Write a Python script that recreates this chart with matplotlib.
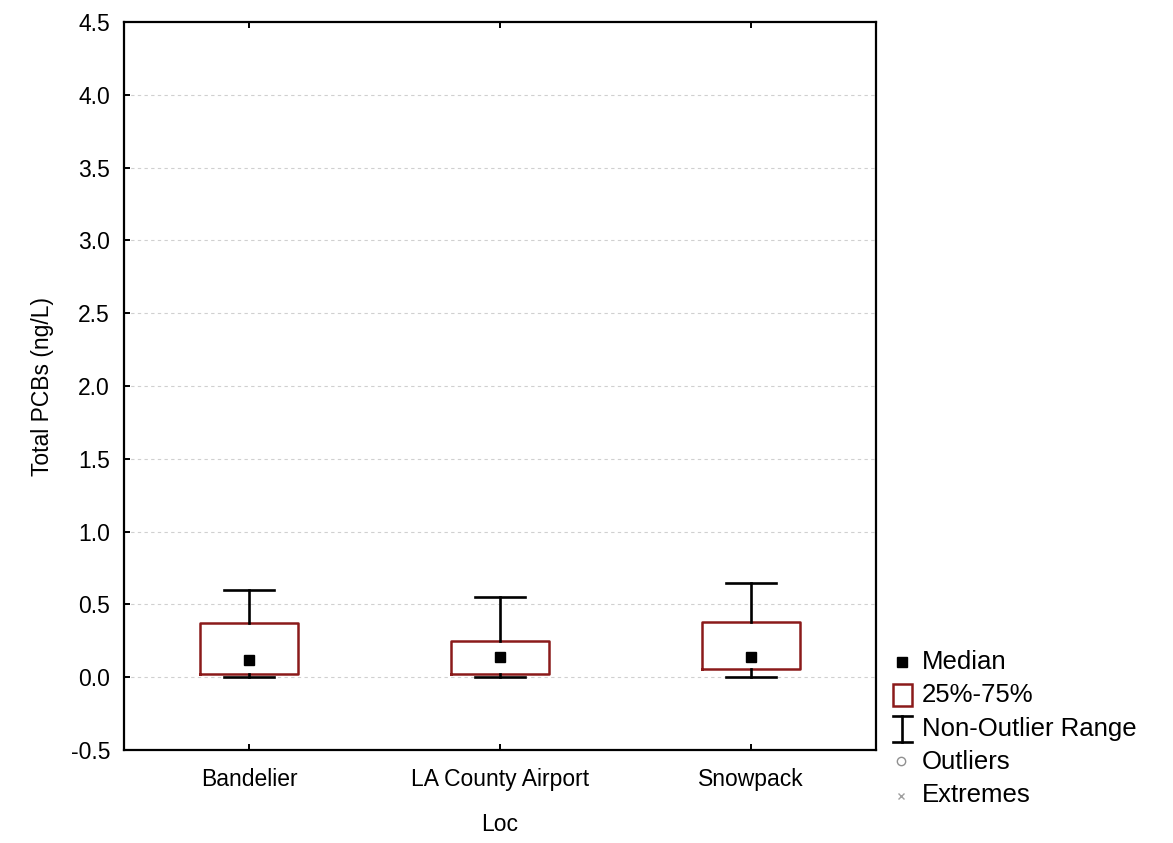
import matplotlib
matplotlib.use("Agg")
import matplotlib.pyplot as plt
from matplotlib.lines import Line2D
from matplotlib.patches import Rectangle

plt.rcParams['font.family'] = ['Liberation Sans', 'DejaVu Sans']

# Summary statistics per location (ng/L)
locations = ["Bandelier", "LA County Airport", "Snowpack"]
medians = [0.12, 0.14, 0.14]
q1 = [0.02, 0.02, 0.055]
q3 = [0.37, 0.25, 0.38]
whisker_low = [0.0, 0.0, 0.0]
whisker_high = [0.60, 0.55, 0.65]

y_ticks = [-0.5, 0.0, 0.5, 1.0, 1.5, 2.0, 2.5, 3.0, 3.5, 4.0, 4.5]

box_red = "#8b1a1a"

fig = plt.figure(figsize=(11.73, 8.43), dpi=100)
ax = fig.add_axes([0.1057, 0.1103, 0.6411, 0.8636])

positions = list(range(1, len(locations) + 1))
stats = []
for i, name in enumerate(locations):
    stats.append(dict(label=name, med=medians[i], q1=q1[i], q3=q3[i],
                      whislo=whisker_low[i], whishi=whisker_high[i], fliers=[]))

ax.bxp(stats, positions=positions, widths=0.39, capwidths=0.2,
       showfliers=False,
       boxprops=dict(color=box_red, linewidth=1.8),
       whiskerprops=dict(color="black", linewidth=1.9),
       capprops=dict(color="black", linewidth=1.9),
       medianprops=dict(linewidth=0, alpha=0),
       zorder=3)
ax.plot(positions, medians, linestyle="none", marker="s", markersize=7.5,
        color="black", zorder=4)

ax.set_xlim(0.5, 3.5)
ax.set_ylim(-0.5, 4.5)
ax.set_yticks(y_ticks)
ax.set_yticklabels([f"{v:.1f}" for v in y_ticks])
ax.set_xticks(positions)
ax.set_xticklabels(locations)

for v in y_ticks[1:-1]:
    ax.axhline(v, color="#d0d0d0", linewidth=0.8, linestyle=(0, (3, 3)), zorder=1)

for s in ax.spines.values():
    s.set_linewidth(1.6)
    s.set_color("black")

ax.tick_params(axis="both", direction="in", length=4, width=1.4, labelsize=16.5,
               top=True, right=False)
ax.tick_params(axis="y", pad=10)
ax.tick_params(axis="x", pad=13)
ax.set_xlabel("Loc", fontsize=16.5, labelpad=16)
ax.set_ylabel("Total PCBs (ng/L)", fontsize=16.5, labelpad=12)

# Legend key drawn in figure pixel space
W, H = 1173, 843
def fx(px):
    return px / W
def fy(py):
    return 1 - py / H

text_x = 922
rows = [662, 695, 729, 762, 795]
labels = ["Median", "25%-75%", "Non-Outlier Range", "Outliers", "Extremes"]
for yy, lab in zip(rows, labels):
    fig.text(fx(text_x), fy(yy), lab, fontsize=18.5, va="center", ha="left")

# median key
fig.add_artist(Line2D([fx(902)], [fy(662)], marker="s", markersize=7,
                      color="black", linestyle="none"))
# box key
fig.add_artist(Rectangle((fx(893), fy(706)), fx(19), 22 / H, fill=False,
                         edgecolor=box_red, linewidth=1.8))
# whisker key
fig.add_artist(Line2D([fx(902), fx(902)], [fy(716), fy(742)], color="black", linewidth=1.9))
fig.add_artist(Line2D([fx(893), fx(912)], [fy(716), fy(716)], color="black", linewidth=1.9))
fig.add_artist(Line2D([fx(893), fx(912)], [fy(742), fy(742)], color="black", linewidth=1.9))
# outlier key
fig.add_artist(Line2D([fx(901)], [fy(761)], marker="o", markersize=6,
                      markerfacecolor="white", markeredgecolor="#909090",
                      markeredgewidth=1.0, linestyle="none"))
# extremes key
fig.add_artist(Line2D([fx(901)], [fy(796)], marker="x", markersize=5,
                      color="#a0a0a0", markeredgewidth=1.0, linestyle="none"))

fig.savefig("out.png", dpi=100, facecolor="white")
